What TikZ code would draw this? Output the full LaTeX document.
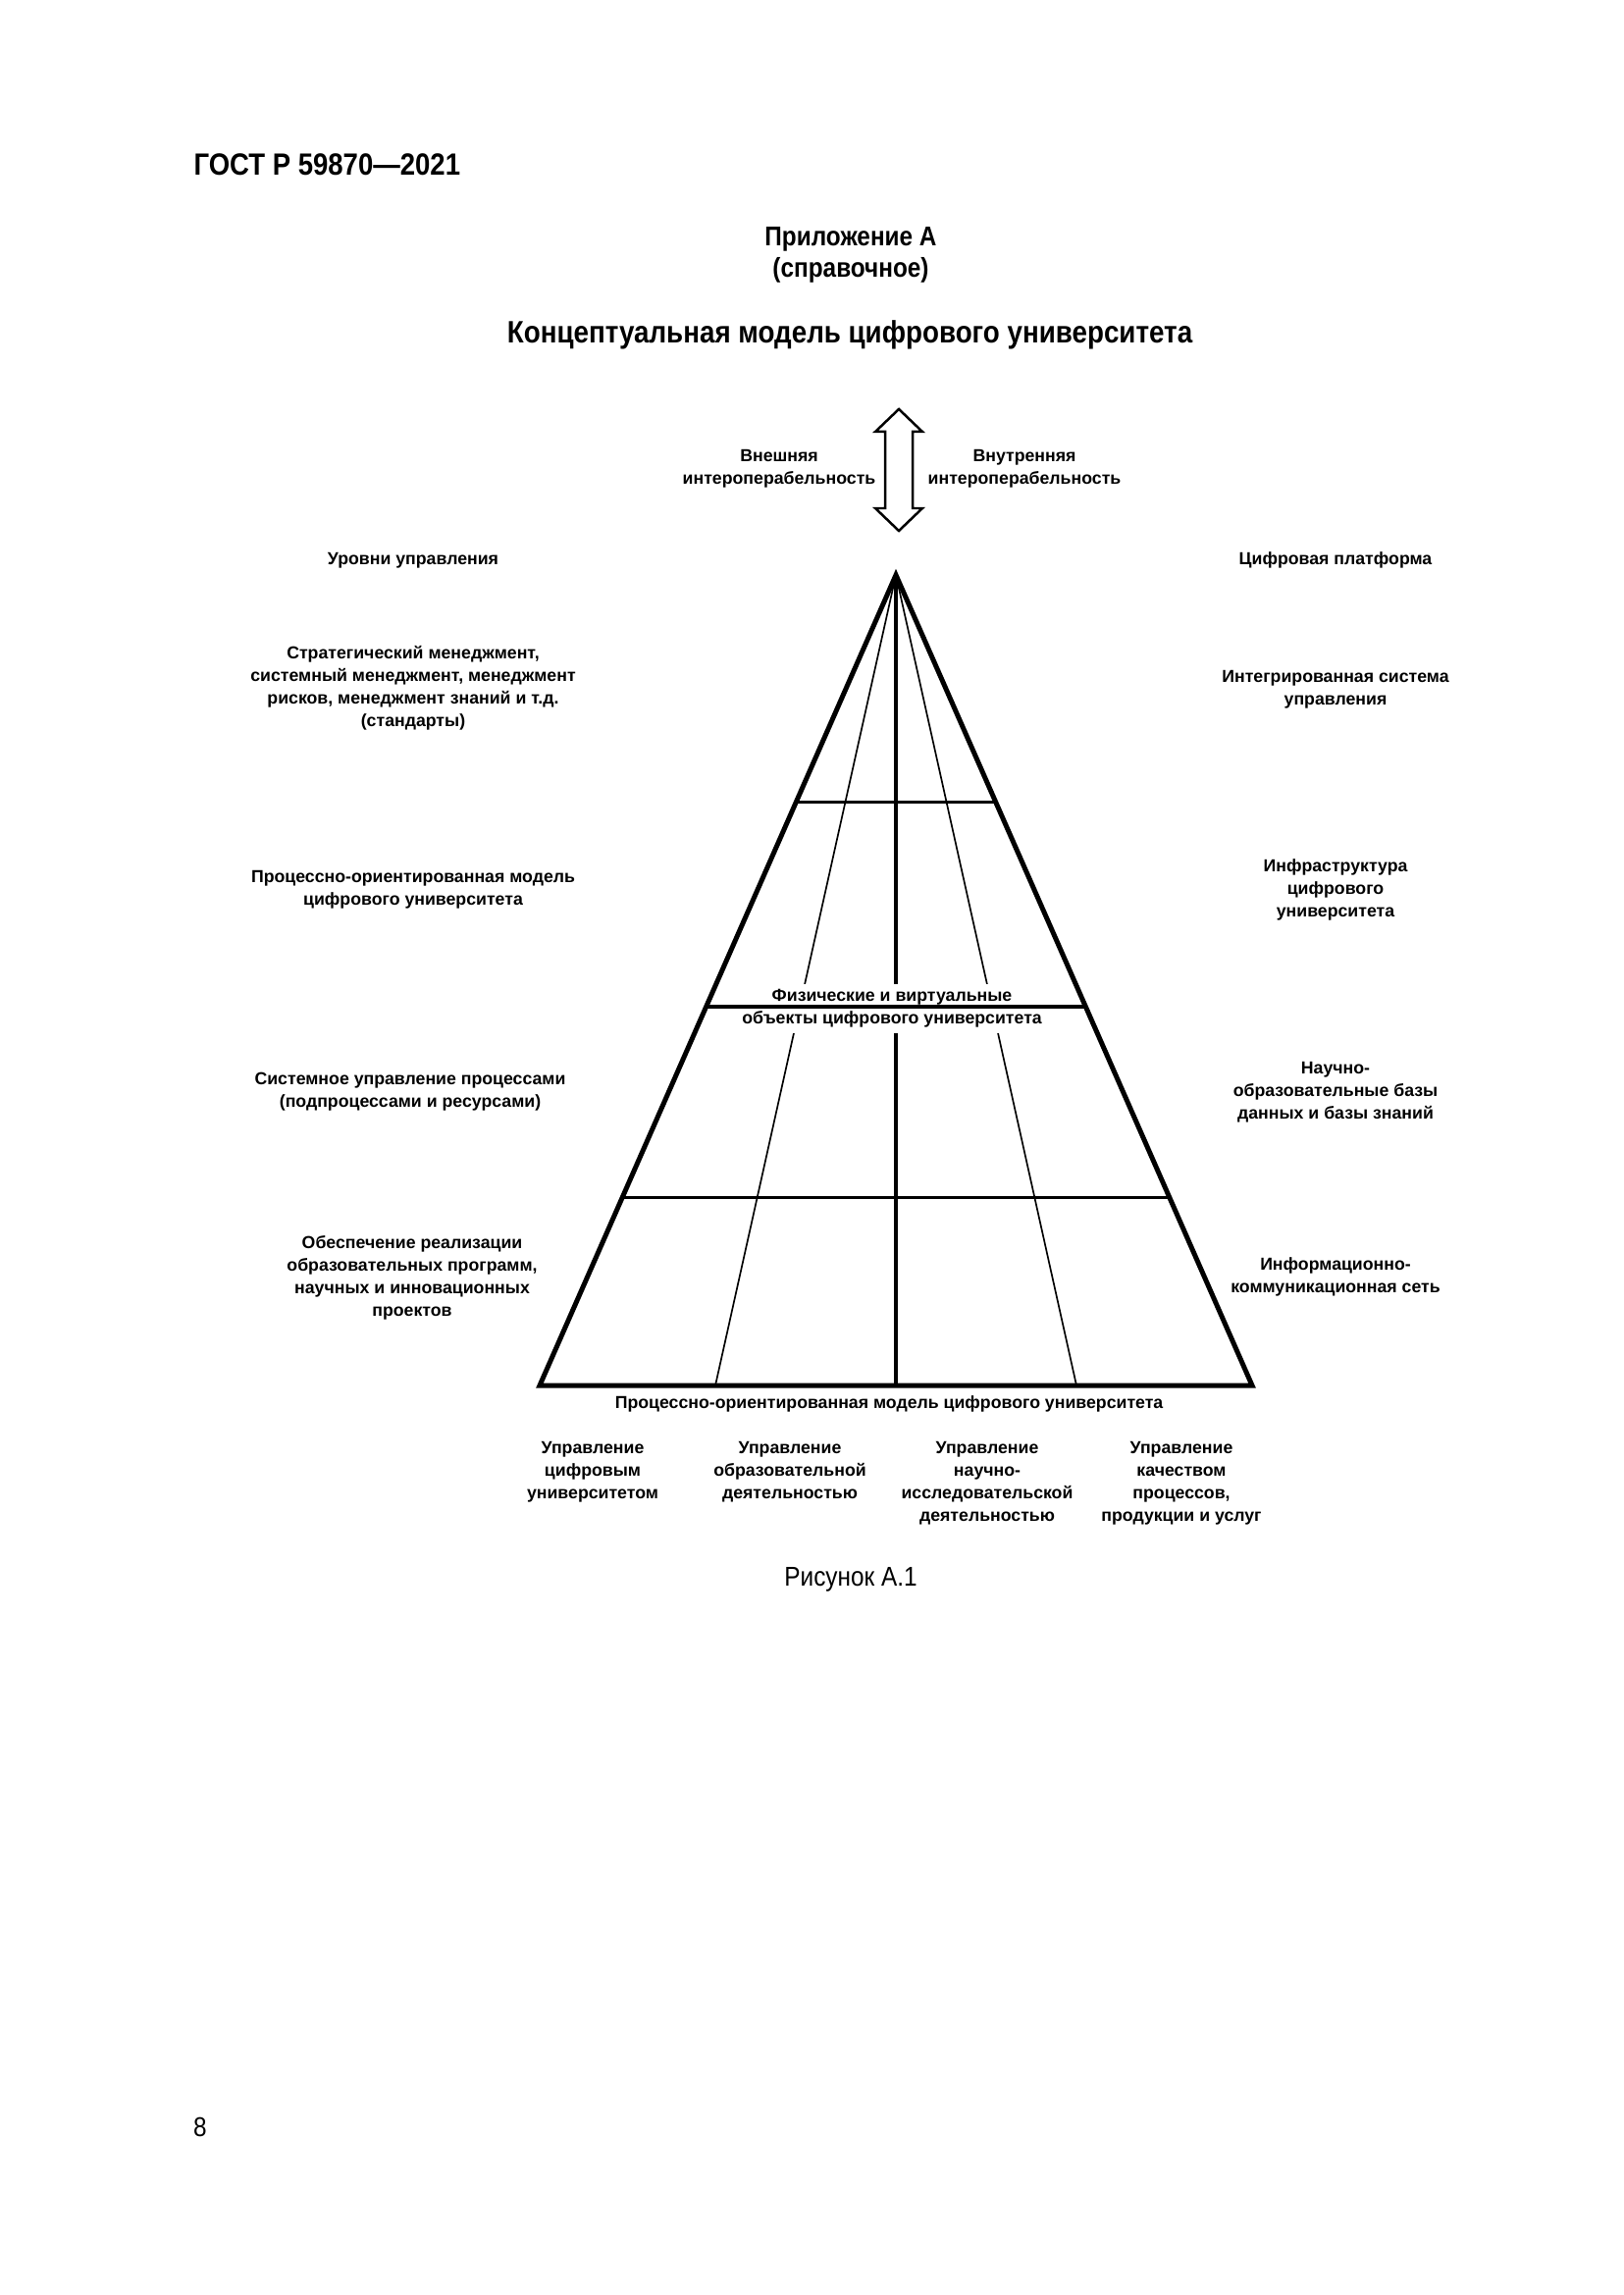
\documentclass[tikz,border=0pt]{standalone}
\usepackage{fontspec}
\setmainfont{Liberation Sans}
\newfontfamily\narrowfont[FakeStretch=0.88]{Liberation Sans}
\usetikzlibrary{calc}
\tikzset{
  lbl/.style={font=\bfseries\fontsize{6.4}{8.3}\selectfont, align=center, inner sep=0pt},
  pagetxt/.style={inner sep=0pt, align=center},
  outer/.style={line width=1.8pt, line join=miter},
  hline/.style={line width=1.1pt},
  cline/.style={line width=1.2pt},
  thin/.style={line width=0.6pt},
  dblarrow/.style={line width=0.9pt, line join=miter}
}
\begin{document}
\begin{tikzpicture}[x=0.127mm, y=-0.127mm]
\path[use as bounding box, fill=white] (0,0) rectangle (1654,2339);

% page texts
\node[pagetxt, anchor=west, font=\narrowfont\bfseries\fontsize{11.3}{13}\selectfont] (hdr) at (197,168) {ГОСТ Р 59870—2021};
\node[pagetxt, font=\narrowfont\bfseries\fontsize{10}{12}\selectfont] (app) at (867,244) {Приложение А};
\node[pagetxt, font=\narrowfont\bfseries\fontsize{10}{12}\selectfont] (ref) at (867,275) {(справочное)};
\node[pagetxt, font=\narrowfont\bfseries\fontsize{11.4}{13}\selectfont] (title) at (866,341) {Концептуальная модель цифрового университета};
\node[pagetxt, font=\narrowfont\fontsize{10}{12}\selectfont] (fig) at (867,1610) {Рисунок А.1};
\node[pagetxt, font=\narrowfont\fontsize{10}{12}\selectfont] (pnum) at (204,2168) {8};

% double arrow
\draw[dblarrow] (916,417) -- (940,440) -- (930,440) -- (930,518) -- (940,518) -- (916,541)
  -- (892,518) -- (902,518) -- (902,440) -- (892,440) -- cycle;
\node[lbl] (ext) at (794,478) {Внешняя\\интероперабельность};
\node[lbl] (int) at (1044,478) {Внутренняя\\интероперабельность};

% pyramid coordinates
\coordinate (A) at (913,586);
\coordinate (BL) at (550,1412);
\coordinate (BR) at (1276,1412);
\coordinate (B1) at (729,1412);
\coordinate (B2) at (913,1412);
\coordinate (B3) at (1097,1412);
\coordinate (L1) at ($(A)!0.2797!(BL)$);
\coordinate (R1) at ($(A)!0.2797!(BR)$);
\coordinate (L2) at ($(A)!0.5327!(BL)$);
\coordinate (R2) at ($(A)!0.5327!(BR)$);
\coordinate (L3) at ($(A)!0.7676!(BL)$);
\coordinate (R3) at ($(A)!0.7676!(BR)$);

% inner lines
\draw[thin] (A) -- (B1);
\draw[thin] (A) -- (B3);
\draw[cline] (A) -- (B2);

% central label with white background
\node[lbl, fill=white, inner sep=2pt] (obj) at (909,1028) {Физические и виртуальные\\объекты цифрового университета};

% horizontal lines
\draw[hline] (L1) -- (R1);
\draw[hline] (L2) -- (R2);
\draw[hline] (L3) -- (R3);

% outer triangle
\draw[outer] (A) -- (BR) -- (BL) -- cycle;

% left labels
\node[lbl] (lv) at (421,571) {Уровни управления};
\node[lbl] (l1) at (421,701) {Стратегический менеджмент,\\системный менеджмент, менеджмент\\рисков, менеджмент знаний и т.д.\\(стандарты)};
\node[lbl] (l2) at (421,907) {Процессно-ориентированная модель\\цифрового университета};
\node[lbl] (l3) at (418,1113) {Системное управление процессами\\(подпроцессами и ресурсами)};
\node[lbl] (l4) at (420,1302) {Обеспечение реализации\\образовательных программ,\\научных и инновационных\\проектов};

% right labels
\node[lbl] (rv) at (1361,571) {Цифровая платформа};
\node[lbl] (r1) at (1361,703) {Интегрированная система\\управления};
\node[lbl] (r2) at (1361,907) {Инфраструктура\\цифрового\\университета};
\node[lbl] (r3) at (1361,1113) {Научно-\\образовательные базы\\данных и базы знаний};
\node[lbl] (r4) at (1361,1301) {Информационно-\\коммуникационная сеть};

% bottom labels
\node[lbl] (bm) at (906,1431) {Процессно-ориентированная модель цифрового университета};
\node[lbl, anchor=north] (c1) at (604,1469) {Управление\\цифровым\\университетом};
\node[lbl, anchor=north] (c2) at (805,1469) {Управление\\образовательной\\деятельностью};
\node[lbl, anchor=north] (c3) at (1006,1469) {Управление\\научно-\\исследовательской\\деятельностью};
\node[lbl, anchor=north] (c4) at (1204,1469) {Управление\\качеством\\процессов,\\продукции и услуг};
\end{tikzpicture}
\end{document}
